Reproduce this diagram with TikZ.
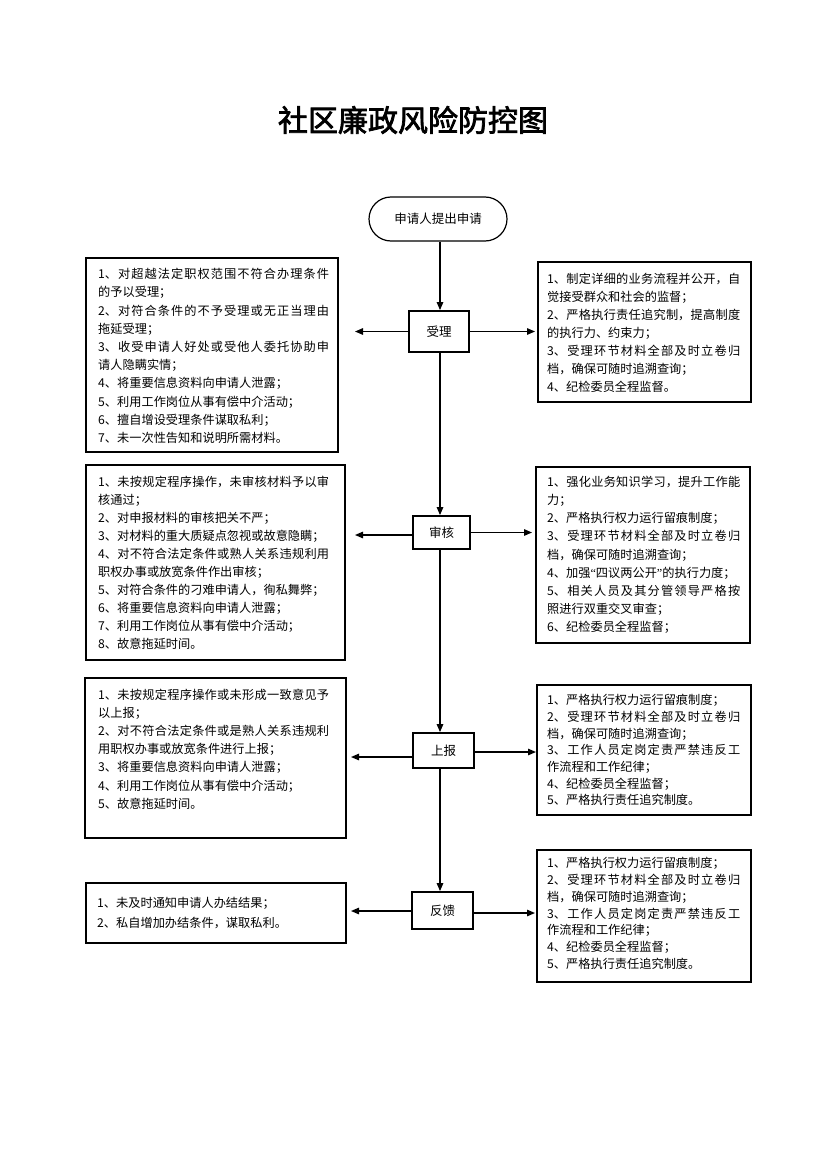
\documentclass[tikz,border=0pt]{standalone}
\usepackage{fontspec}
\setmainfont{Noto Sans CJK SC}[AutoFakeBold=2.5]
\newfontfamily\qfont{Liberation Serif}
\usetikzlibrary{arrows.meta,calc}
\XeTeXlinebreaklocale "zh"
\XeTeXlinebreakskip=0pt plus 1pt
\tolerance=10000
\hbadness=10000
\tikzset{
  frame/.style={draw, line width=2pt, inner sep=0pt},
  stage/.style={draw, line width=1.8pt, inner sep=0pt, font=\fontsize{12.5}{14}\selectfont},
  body/.style={inner sep=0pt, anchor=base west, align=justify, font=\fontsize{12.2}{18.2}\selectfont},
  lbody/.style={body, text width=231pt},
  rbody/.style={body, text width=193pt},
  arr/.style={line width=1.3pt, -{Triangle[length=8pt,width=6.5pt]}},
}
\begin{document}
\begin{tikzpicture}[x=1pt,y=-1pt]
\useasboundingbox (0,0) rectangle (826,1169);
% title
\node[font=\fontsize{30}{36}\selectfont\bfseries] (title) at (413,120) {社区廉政风险防控图};
% start
\node[draw, line width=1.2pt, rounded corners=22pt, minimum width=138pt, minimum height=44pt, inner sep=0pt, font=\fontsize{12.5}{14}\selectfont] (start) at (438,219) {申请人提出申请\hspace{14pt}};
% stage boxes
\node[stage, minimum width=60pt, minimum height=41pt] (B1) at (439,331.5) {受理};
\node[stage, minimum width=57pt, minimum height=33pt] (B2) at (441.5,532.5) {审核};
\node[stage, minimum width=61pt, minimum height=35pt] (B3) at (443.5,750.5) {上报};
\node[stage, minimum width=61pt, minimum height=37pt] (B4) at (442.5,910.5) {反馈};
% frames
\node[frame, minimum width=252pt, minimum height=194pt] (L1) at (212,355) {};
\node[frame, minimum width=213pt, minimum height=140pt] (R1) at (644.5,332) {};
\node[frame, minimum width=259pt, minimum height=195pt] (L2) at (215.5,562.5) {};
\node[frame, minimum width=214pt, minimum height=176pt] (R2) at (643,555) {};
\node[frame, minimum width=261pt, minimum height=160pt] (L3) at (215.5,758) {};
\node[frame, minimum width=214pt, minimum height=130pt] (R3) at (644,750) {};
\node[frame, minimum width=260pt, minimum height=60pt] (L4) at (216,913) {};
\node[frame, minimum width=214pt, minimum height=132pt] (R4) at (644,916) {};
% texts
\node[lbody] (tL1) at (98,278.6) {1、对超越法定职权范围不符合办理条件\linebreak 的予以受理；\par
2、对符合条件的不予受理或无正当理由\linebreak 拖延受理；\par
3、收受申请人好处或受他人委托协助申\linebreak 请人隐瞒实情；\par
4、将重要信息资料向申请人泄露；\par
5、利用工作岗位从事有偿中介活动；\par
6、擅自增设受理条件谋取私利；\par
7、未一次性告知和说明所需材料。};
\node[rbody, font=\fontsize{12.2}{18}\selectfont] (tR1) at (547,283) {1、制定详细的业务流程并公开，自\linebreak 觉接受群众和社会的监督；\par
2、严格执行责任追究制，提高制度\linebreak 的执行力、约束力；\par
3、受理环节材料全部及时立卷归\linebreak 档，确保可随时追溯查询；\par
4、纪检委员全程监督。};
\node[lbody, font=\fontsize{12.2}{18.1}\selectfont] (tL2) at (98,486) {1、未按规定程序操作，未审核材料予以审\linebreak 核通过；\par
2、对申报材料的审核把关不严；\par
3、对材料的重大质疑点忽视或故意隐瞒；\par
4、对不符合法定条件或熟人关系违规利用\linebreak 职权办事或放宽条件作出审核；\par
5、对符合条件的刁难申请人，徇私舞弊；\par
6、将重要信息资料向申请人泄露；\par
7、利用工作岗位从事有偿中介活动；\par
8、故意拖延时间。};
\node[rbody, font=\fontsize{12.2}{18.1}\selectfont] (tR2) at (547,486.6) {1、强化业务知识学习，提升工作能\linebreak 力；\par
2、严格执行权力运行留痕制度；\par
3、受理环节材料全部及时立卷归\linebreak 档，确保可随时追溯查询；\par
\mbox{4、加强{\qfont “}四议两公开{\qfont ”}的执行力度；}\par
5、相关人员及其分管领导严格按\linebreak 照进行双重交叉审查；\par
6、纪检委员全程监督；};
\node[lbody] (tL3) at (98,699) {1、未按规定程序操作或未形成一致意见予\linebreak 以上报；\par
2、对不符合法定条件或是熟人关系违规利\linebreak 用职权办事或放宽条件进行上报；\par
3、将重要信息资料向申请人泄露；\par
4、利用工作岗位从事有偿中介活动；\par
5、故意拖延时间。};
\node[rbody, font=\fontsize{12.2}{16.7}\selectfont] (tR3) at (547,704.6) {1、严格执行权力运行留痕制度；\par
2、受理环节材料全部及时立卷归\linebreak 档，确保可随时追溯查询；\par
3、工作人员定岗定责严禁违反工\linebreak 作流程和工作纪律；\par
4、纪检委员全程监督；\par
5、严格执行责任追究制度。};
\node[lbody, font=\fontsize{12.2}{20}\selectfont] (tL4) at (97,907) {1、未及时通知申请人办结结果；\par
2、私自增加办结条件，谋取私利。};
\node[rbody, font=\fontsize{12.2}{16.8}\selectfont] (tR4) at (547,867.6) {1、严格执行权力运行留痕制度；\par
2、受理环节材料全部及时立卷归\linebreak 档，确保可随时追溯查询；\par
3、工作人员定岗定责严禁违反工\linebreak 作流程和工作纪律；\par
4、纪检委员全程监督；\par
5、严格执行责任追究制度。};
% vertical flow
\coordinate (vx) at (440,0);
\draw[arr] (start.south -| vx) -- (B1.north -| vx);
\draw[arr] (B1.south -| vx) -- (B2.north -| vx);
\draw[arr] (B2.south -| vx) -- (B3.north -| vx);
\draw[arr] (B3.south -| vx) -- (B4.north -| vx);
% horizontal arrows
\draw[arr, shorten >=16pt] (B1.west) -- (B1.west -| L1.east);
\draw[arr, shorten >=2pt] (B1.east) -- (B1.east -| R1.west);
\draw[arr, shorten >=9pt] ([yshift=-2.5pt]B2.west) -- ([yshift=-2.5pt]B2.west -| L2.east);
\draw[arr, shorten >=3pt] (B2.east) -- (B2.east -| R2.west);
\draw[arr, shorten >=4pt] ([yshift=-6.5pt]B3.west) -- ([yshift=-6.5pt]B3.west -| L3.east);
\draw[arr] ([yshift=-1.5pt]B3.east) -- ([yshift=-1.5pt]B3.east -| R3.west);
\draw[arr, shorten >=4pt] ([yshift=-0.5pt]B4.west) -- ([yshift=-0.5pt]B4.west -| L4.east);
\draw[arr, shorten >=1pt] ([yshift=-2.5pt]B4.east) -- ([yshift=-2.5pt]B4.east -| R4.west);
\end{tikzpicture}
\end{document}
